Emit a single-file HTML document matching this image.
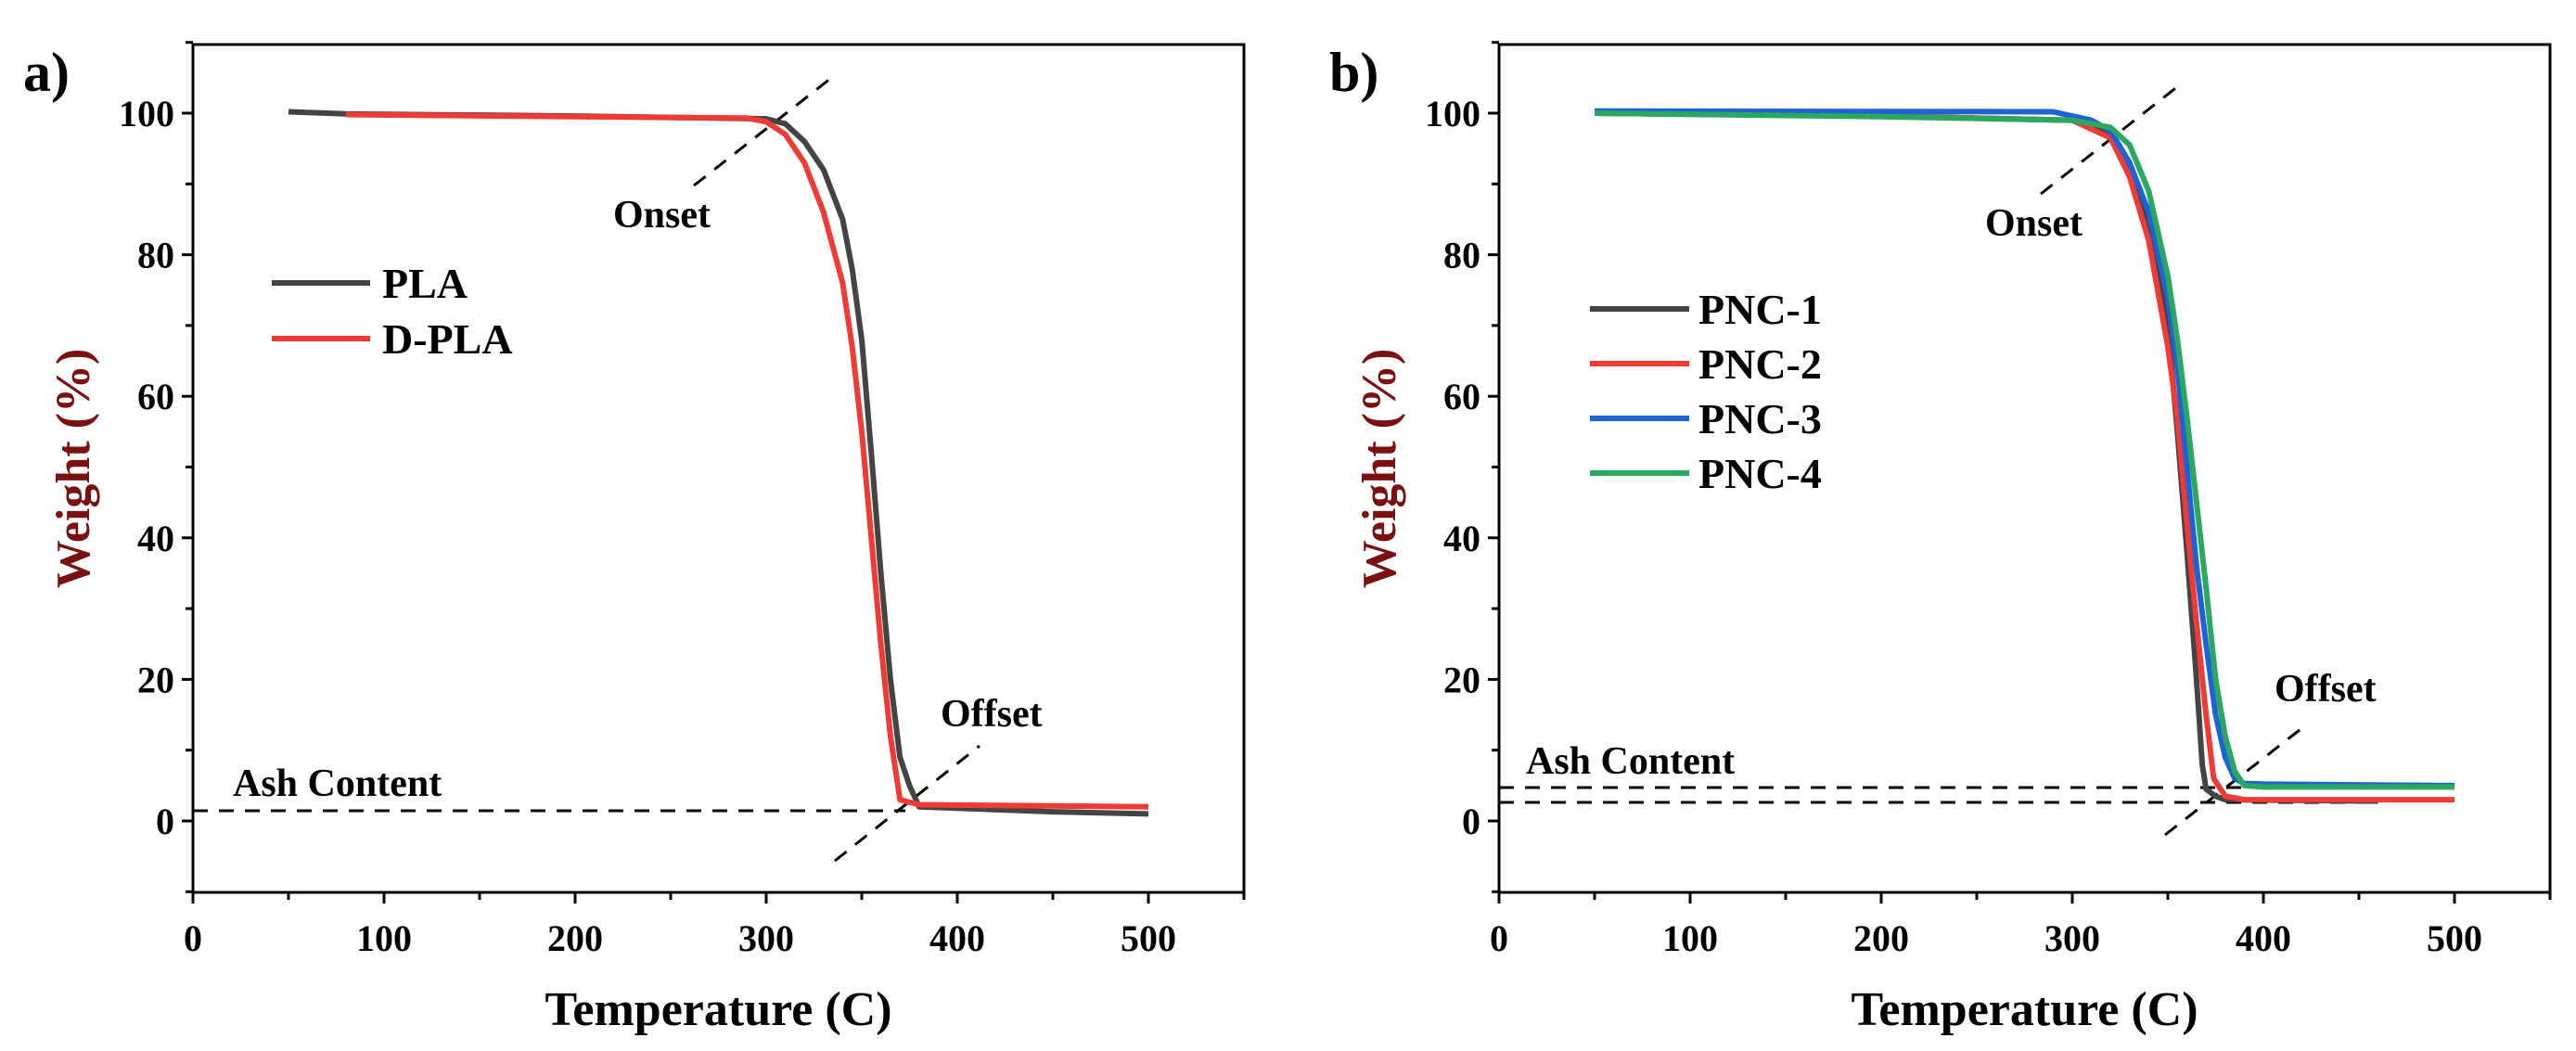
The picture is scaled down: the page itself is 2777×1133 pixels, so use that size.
<!DOCTYPE html>
<html><head><meta charset="utf-8"><style>
html,body{margin:0;padding:0;background:#fff;}
svg{display:block;font-family:"Liberation Serif",serif;font-weight:bold;}
</style></head><body>
<svg id="fig" width="2777" height="1133" viewBox="0 0 2777 1133" xmlns="http://www.w3.org/2000/svg"></svg>
<script>
// ---- data ----
const xTicks = [0,100,200,300,400,500];
const yTicks = [0,20,40,60,80,100];
const plaT = [50,80,200,300,310,320,330,340,345,350,355,360,365,370,375,380,400,450,500];
const plaW = [100.2,99.9,99.6,99.2,98.5,96,92,85,78,68,52,35,20,9,5,2,1.8,1.3,1.0];
const dplaT = [80,200,290,300,310,320,330,340,345,350,355,360,365,370,380,500];
const dplaW = [99.8,99.5,99.3,98.8,97,93,86,76,67,55,40,25,12,3,2.3,2.0];
const pnc1T = [50,200,300,320,330,340,350,355,360,365,368,370,375,380,460];
const pnc1W = [100,99.6,99,97,92,84,70,55,38,20,8,4.5,3.5,3,2.8];
const pnc2T = [50,200,300,320,330,340,350,355,360,365,370,374,380,390,500];
const pnc2W = [100,99.6,99,96.5,91,82,67,57,42,28,15,6,3.5,3,3];
const pnc3T = [50,290,310,320,330,340,350,355,360,365,370,375,380,385,390,400,500];
const pnc3W = [100.3,100.2,99,97.5,93,86,74,64,50,36,25,15,9,6,5.3,5.2,5];
const pnc4T = [50,200,300,320,330,340,350,355,360,365,370,375,380,385,390,400,500];
const pnc4W = [100,99.5,99,98,95.5,89,77,68,57,45,33,20,12,7,5,4.8,4.8];

const NS="http://www.w3.org/2000/svg";
const svg=document.getElementById('fig');
function el(tag,attrs,parent){const e=document.createElementNS(NS,tag);for(const k in attrs)e.setAttribute(k,attrs[k]);(parent||svg).appendChild(e);return e;}
function txt(s,attrs,parent){const e=el('text',attrs,parent);e.textContent=s;return e;}

function panel(ox, label, series, legend, ann){
  const L=ox, R=ox+1133, T=48, B=962;
  const sx=v=>L+v*2.06, sy=v=>885-v*7.63;
  const g=el('g',{});
  
  
  const fr=el('rect',{x:L,y:T,width:R-L,height:B-T,fill:'none',stroke:'#000','stroke-width':3},g);
  
  
  for(let v=0;v<=550;v+=50){
    const t=el('line',{x1:sx(v),x2:sx(v),y1:B,y2:B+(v%100?8:12),stroke:'#000','stroke-width':3},g);
    
    
  }
  xTicks.forEach(v=>{const t=txt(String(v),{x:sx(v),y:1025,'font-size':40,'text-anchor':'middle'},g);
    
    });
  for(let v=-10;v<=110;v+=10){
    const t=el('line',{x1:L,x2:L-(v%20?8:12),y1:sy(v),y2:sy(v),stroke:'#000','stroke-width':3},g);
    
    
  }
  yTicks.forEach(v=>{const t=txt(String(v),{x:L-20,y:sy(v)+14,'font-size':40,'text-anchor':'end'},g);
    
    });
  const xt=txt('Temperature (C)',{x:(L+R)/2,y:1105,'font-size':52,'text-anchor':'middle'},g);
  
  
  const yx=L-130;
  const yt=txt('Weight (%)',{x:yx,y:(T+B)/2,'font-size':52,'text-anchor':'middle',fill:'#7a1010',transform:`rotate(-90 ${yx} ${(T+B)/2})`,dy:18},g);
  
  
  const pl=txt(label+')',{x:ox-183,y:98,'font-size':60},g);
  
  
  // annotations
  ann.lines.forEach(a=>{const d=el('line',{x1:a[0],y1:a[1],x2:a[2],y2:a[3],stroke:'#000','stroke-width':3,'stroke-dasharray':'16,12'},g);
    
    });
  ann.texts.forEach(a=>{const t=txt(a[0],{x:a[1],y:a[2],'font-size':42},g);
    
    });
  // series
  series.forEach(s=>{
    const d=s.t.map((t,i)=>(i?'L':'M')+sx(t).toFixed(1)+','+sy(s.w[i]).toFixed(1)).join(' ');
    const p=el('path',{d:d,fill:'none',stroke:s.c,'stroke-width':6,'stroke-linejoin':'round'},g);
    
    
  });
  // legend
  series.forEach((s,i)=>{
    const y=legend.y0+i*legend.dy;
    const l=el('line',{x1:legend.x1,x2:legend.x2,y1:y,y2:y,stroke:s.c,'stroke-width':6},g);
    
    
    const t=txt(s.n,{x:legend.tx,y:y+16,'font-size':46},g);
    
    
  });
}

panel(208,'a',[
  {n:'PLA',t:plaT,w:plaW,c:'#444444'},
  {n:'D-PLA',t:dplaT,w:dplaW,c:'#f03a36'}
],{x1:293,x2:399,tx:412,y0:305,dy:60},{
  lines:[[748,200,900,81],[900,928,1056,804],[208,874,976,874]],
  texts:[['Onset',661,245],['Offset',1014,783],['Ash Content',251,858]]
});
panel(1616,'b',[
  {n:'PNC-1',t:pnc1T,w:pnc1W,c:'#444444'},
  {n:'PNC-2',t:pnc2T,w:pnc2W,c:'#f03a36'},
  {n:'PNC-3',t:pnc3T,w:pnc3W,c:'#1f62d8'},
  {n:'PNC-4',t:pnc4T,w:pnc4W,c:'#2aa860'}
],{x1:1714,x2:1821,tx:1831,y0:333,dy:59},{
  lines:[[2200,209,2353,89],[2334,900,2488,780],[1616,849,2563,849],[1616,865,2563,865]],
  texts:[['Onset',2140,254],['Offset',2452,756],['Ash Content',1645,834]]
});
</script>
</body></html>
